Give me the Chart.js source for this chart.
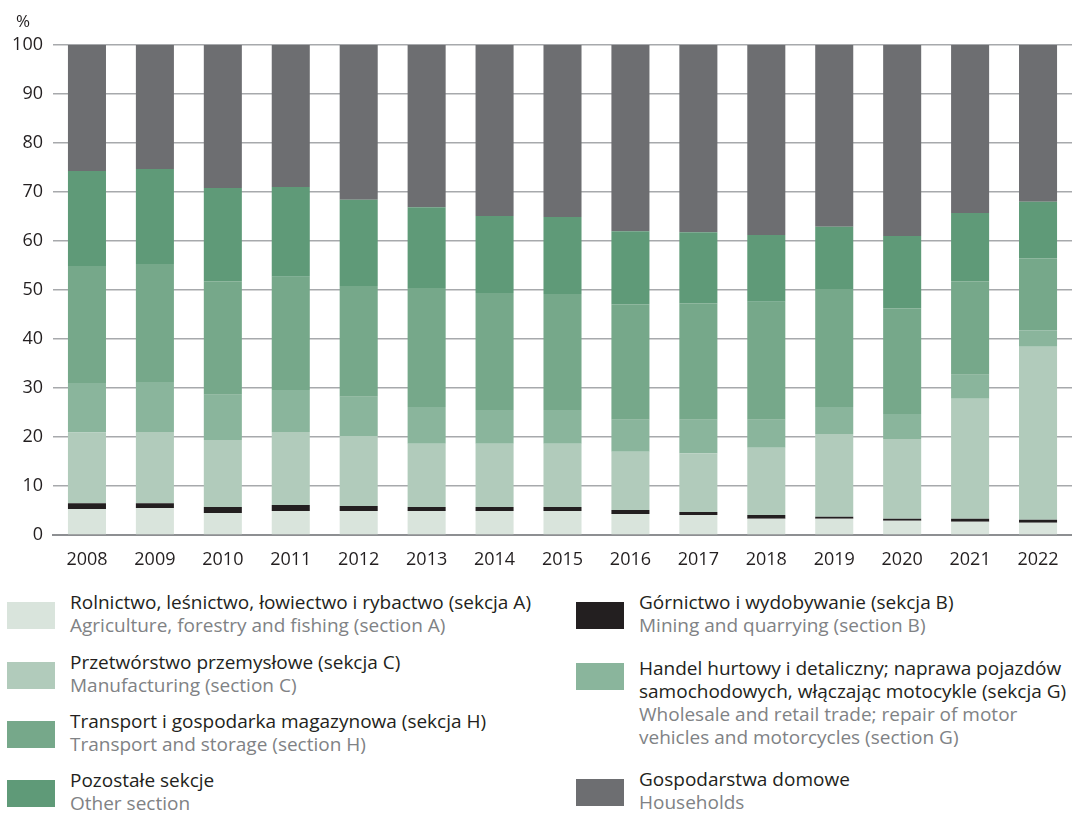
<!DOCTYPE html>
<html lang="pl">
<head>
<meta charset="utf-8">
<script src="https://cdn.jsdelivr.net/npm/chart.js@4/dist/chart.umd.min.js"></script>
<style>
  html, body { margin: 0; padding: 0; background: #fff; }
  body { width: 1072px; height: 814px; position: relative; overflow: hidden;
         font-family: "Open Sans", "Noto Sans", sans-serif; }
  #wrap { position: absolute; left: 0; top: 0; width: 1072px; height: 570px; }
  #unit { position: absolute; left: 16px; top: 9px; font-size: 17px; color: #231f20; }
  .sw { position: absolute; width: 48px; height: 27px; }
  .tx { position: absolute; font-size: 19px; line-height: 23px; white-space: nowrap; }
  .pl { color: #231f20; }
  .en { color: #808285; }
</style>
</head>
<body>
<div id="wrap"><canvas id="c" width="1072" height="570"></canvas></div>
<div id="unit">%</div>
<div id="legend"></div>
<script>
// Years on the category axis
const years = ['2008','2009','2010','2011','2012','2013','2014','2015','2016','2017','2018','2019','2020','2021','2022'];

// Shares (%) of each sector, bottom to top of each stacked bar
const agriculture   = [5.3, 5.5, 4.5, 4.9, 4.9, 4.9, 4.9, 4.9, 4.3, 4.1, 3.3, 3.3, 2.9, 2.7, 2.5];
const mining        = [1.2, 1.0, 1.2, 1.2, 1.0, 0.8, 0.8, 0.8, 0.8, 0.6, 0.8, 0.4, 0.4, 0.6, 0.6];
const manufacturing = [14.4, 14.5, 13.7, 14.9, 14.3, 12.9, 12.9, 12.9, 11.9, 12.0, 13.7, 16.9, 16.3, 24.5, 35.3];
const trade         = [10.1, 10.2, 9.2, 8.6, 8.0, 7.5, 6.9, 6.9, 6.5, 6.8, 5.7, 5.5, 5.1, 4.9, 3.4];
const transport     = [23.9, 24.1, 23.2, 23.1, 22.6, 24.3, 23.9, 23.7, 23.6, 23.8, 24.1, 24.1, 21.6, 19.1, 14.7];
const otherSections = [19.4, 19.4, 19.0, 18.3, 17.6, 16.5, 15.7, 15.7, 14.9, 14.5, 13.6, 12.7, 14.7, 13.9, 11.5];
const households    = [25.7, 25.3, 29.2, 29.0, 31.6, 33.1, 34.9, 35.1, 38.0, 38.2, 38.8, 37.1, 39.0, 34.3, 32.0];

// Y axis tick values
const yTicks = [0, 10, 20, 30, 40, 50, 60, 70, 80, 90, 100];

// Series labels (Polish / English)
const seriesPl = [
  'Rolnictwo, leśnictwo, łowiectwo i rybactwo (sekcja A)',
  'Górnictwo i wydobywanie (sekcja B)',
  'Przetwórstwo przemysłowe (sekcja C)',
  'Handel hurtowy i detaliczny; naprawa pojazdów\nsamochodowych, włączając motocykle (sekcja G)',
  'Transport i gospodarka magazynowa (sekcja H)',
  'Pozostałe sekcje',
  'Gospodarstwa domowe'
];
const seriesEn = [
  'Agriculture, forestry and fishing (section A)',
  'Mining and quarrying (section B)',
  'Manufacturing (section C)',
  'Wholesale and retail trade; repair of motor\nvehicles and motorcycles (section G)',
  'Transport and storage (section H)',
  'Other section',
  'Households'
];
const colors = ['#d9e4dc', '#231f20', '#b1cbbb', '#8ab59c', '#76a88a', '#5f9a78', '#6d6e71'];
const seriesData = [agriculture, mining, manufacturing, trade, transport, otherSections, households];

const FONT = '"Open Sans", "Noto Sans", sans-serif';

new Chart(document.getElementById('c'), {
  type: 'bar',
  data: {
    labels: years,
    datasets: seriesData.map((d, i) => ({
      label: seriesPl[i],
      data: d,
      backgroundColor: colors[i],
      borderWidth: 0,
      categoryPercentage: 1,
      barPercentage: 0.56
    }))
  },
  options: {
    responsive: false,
    animation: false,
    layout: { padding: { top: 45, right: 0, bottom: 0, left: 0 } },
    plugins: { legend: { display: false }, tooltip: { enabled: false } },
    scales: {
      x: {
        stacked: true,
        grid: { display: false },
        border: { display: true, color: '#8d8f92', width: 2 },
        ticks: { color: '#231f20', font: { family: FONT, size: 18 }, padding: 6 },
        afterFit: s => { s.height = 35; }
      },
      y: {
        stacked: true,
        min: 0, max: 100,
        afterBuildTicks: s => { s.ticks = yTicks.map(v => ({ value: v })); },
        grid: { color: '#a7a9ac', lineWidth: 1.5, drawTicks: false },
        border: { display: false },
        ticks: { color: '#231f20', font: { family: FONT, size: 18 }, padding: 10 },
        afterFit: s => { s.width = 53; }
      }
    }
  }
});

// Legend: two columns beneath the chart
const legendLayout = [
  { i: 0, x: 7,   sy: 602, ty: 591 },
  { i: 2, x: 7,   sy: 662, ty: 651 },
  { i: 4, x: 7,   sy: 721, ty: 710 },
  { i: 5, x: 7,   sy: 780, ty: 769 },
  { i: 1, x: 576, sy: 602, ty: 591 },
  { i: 3, x: 576, sy: 663, ty: 657 },
  { i: 6, x: 576, sy: 779, ty: 768 }
];
const legend = document.getElementById('legend');
legendLayout.forEach(e => {
  const sw = document.createElement('div');
  sw.className = 'sw';
  sw.style.left = e.x + 'px';
  sw.style.top = e.sy + 'px';
  sw.style.background = colors[e.i];
  legend.appendChild(sw);
  const tx = document.createElement('div');
  tx.className = 'tx';
  tx.style.left = (e.x + 63) + 'px';
  tx.style.top = e.ty + 'px';
  seriesPl[e.i].split('\n').forEach(t => {
    const d = document.createElement('div'); d.className = 'pl'; d.textContent = t; tx.appendChild(d);
  });
  seriesEn[e.i].split('\n').forEach(t => {
    const d = document.createElement('div'); d.className = 'en'; d.textContent = t; tx.appendChild(d);
  });
  legend.appendChild(tx);
});
</script>
</body>
</html>
